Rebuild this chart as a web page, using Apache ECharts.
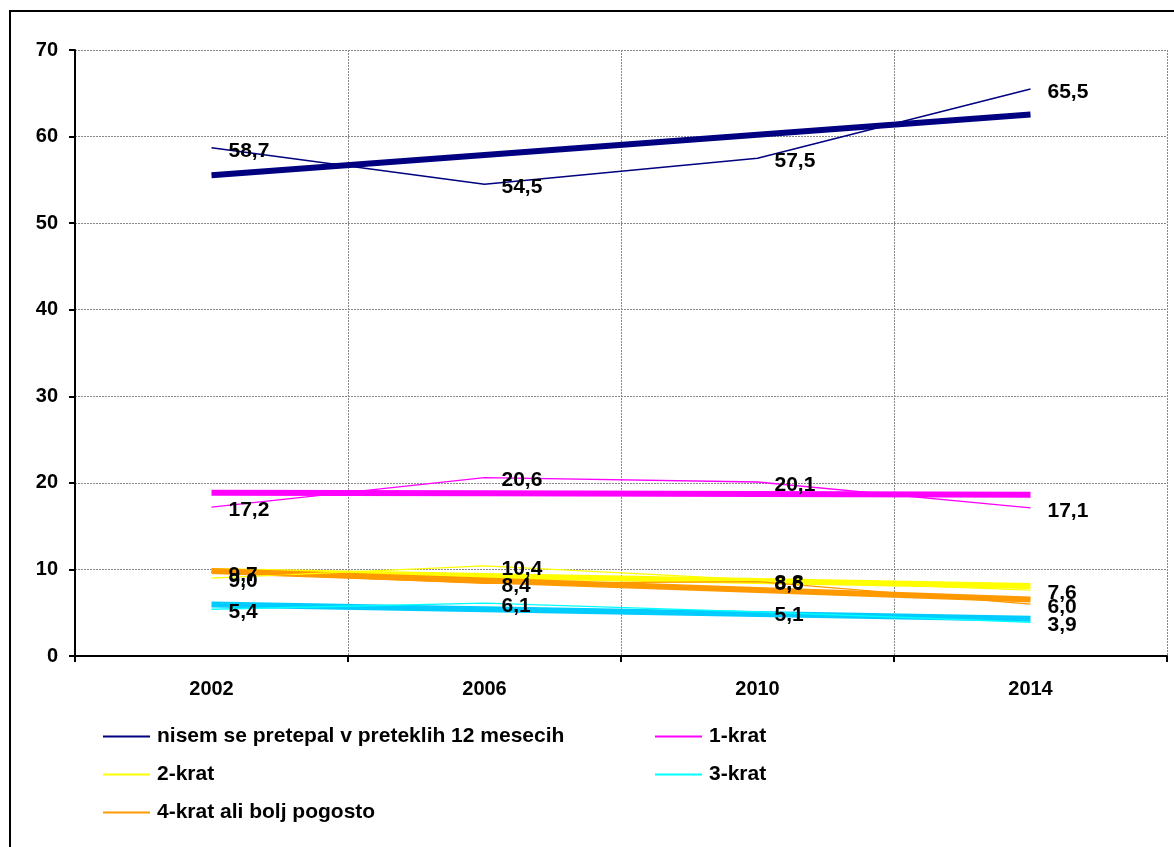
<!DOCTYPE html>
<html>
<head>
<meta charset="utf-8">
<script src="https://cdn.jsdelivr.net/npm/echarts@6/dist/echarts.min.js"></script>
<style>
html,body{margin:0;padding:0;background:#fff;}
#chart{width:1174px;height:847px;}
</style>
</head>
<body>
<div id="chart"></div>
<script>
var categories = ['2002', '2006', '2010', '2014'];
var seriesNames = ['nisem se pretepal v preteklih 12 mesecih', '1-krat', '2-krat', '3-krat', '4-krat ali bolj pogosto'];
var nisem = [58.7, 54.5, 57.5, 65.5];
var krat1 = [17.2, 20.6, 20.1, 17.1];
var krat2 = [9.0, 10.4, 8.8, 7.6];
var krat3 = [5.4, 6.1, 5.1, 3.9];
var krat4 = [9.7, 8.4, 8.6, 6.0];
var yTicks = [0, 10, 20, 30, 40, 50, 60, 70];

var lineColors = ['#000080', '#FF00FF', '#FFFF00', '#00FFFF', '#FF9900'];
var trendColors = ['#000080', '#FF00FF', '#FFFF00', '#00CCFF', '#FF9900'];
var allData = [nisem, krat1, krat2, krat3, krat4];

function linFit(arr) {
  var n = arr.length, sx = 0, sy = 0, sxx = 0, sxy = 0;
  for (var i = 0; i < n; i++) { sx += i; sy += arr[i]; sxx += i * i; sxy += i * arr[i]; }
  var b = (n * sxy - sx * sy) / (n * sxx - sx * sx);
  var a = (sy - b * sx) / n;
  var out = [];
  for (var j = 0; j < n; j++) out.push(+(a + b * j).toFixed(3));
  return out;
}

var FONT = '"Liberation Sans", Arial, sans-serif';
var series = [];
allData.forEach(function (d, i) {
  series.push({
    name: 'trend' + i,
    type: 'line',
    data: linFit(d),
    symbol: 'none',
    silent: true,
    lineStyle: { color: trendColors[i], width: 6 },
    z: 2
  });
});
allData.forEach(function (d, i) {
  series.push({
    name: seriesNames[i],
    type: 'line',
    data: d,
    symbol: 'circle',
    symbolSize: 0,
    itemStyle: { color: lineColors[i] },
    lineStyle: { color: lineColors[i], width: i === 0 ? 1.5 : 1.3 },
    label: {
      show: true,
      position: 'right',
      distance: 17,
      offset: [0, 3],
      color: '#000',
      fontFamily: FONT,
      fontWeight: 'bold',
      fontSize: 21,
      formatter: function (p) { return p.value.toFixed(1).replace('.', ','); }
    },
    z: 3
  });
});

function legendAt(name, left, top) {
  return {
    data: [name],
    left: left,
    top: top,
    icon: 'rect',
    itemWidth: 47,
    itemHeight: 2,
    itemGap: 0,
    padding: 0,
    textStyle: { fontFamily: FONT, fontWeight: 'bold', fontSize: 21, color: '#000', padding: [0, 0, 0, 2] }
  };
}

var chart = echarts.init(document.getElementById('chart'), null, { renderer: 'canvas' });
chart.setOption({
  animation: false,
  backgroundColor: '#fff',
  grid: { left: 75, right: 7, top: 50, bottom: 191, containLabel: false },
  graphic: [{
    type: 'rect',
    shape: { x: 10, y: 11, width: 1200, height: 900 },
    style: { fill: 'none', stroke: '#000', lineWidth: 2 },
    z: -1
  }],
  legend: [
    legendAt(seriesNames[0], 103, 726),
    legendAt(seriesNames[1], 655, 726),
    legendAt(seriesNames[2], 103, 764),
    legendAt(seriesNames[3], 655, 764),
    legendAt(seriesNames[4], 103, 802)
  ],
  xAxis: {
    type: 'category',
    data: categories,
    boundaryGap: true,
    axisLine: { lineStyle: { color: '#000', width: 2 } },
    axisTick: { show: true, length: 6, lineStyle: { color: '#000', width: 2 } },
    axisLabel: { color: '#000', fontFamily: FONT, fontWeight: 'bold', fontSize: 20, margin: 23 },
    splitLine: { show: true, lineStyle: { color: '#888', type: [2, 1], width: 1 } }
  },
  yAxis: {
    type: 'value',
    min: 0,
    max: 70,
    interval: 10,
    axisLine: { show: true, lineStyle: { color: '#000', width: 2 } },
    axisTick: { show: true, length: 6, lineStyle: { color: '#000', width: 2 } },
    axisLabel: {
      color: '#000', fontFamily: FONT, fontWeight: 'bold', fontSize: 20, margin: 17,
      formatter: function (v) { return yTicks.indexOf(v) >= 0 ? String(v) : ''; }
    },
    splitLine: { show: true, lineStyle: { color: '#888', type: [2, 1], width: 1 } }
  },
  series: series
});
</script>
</body>
</html>
